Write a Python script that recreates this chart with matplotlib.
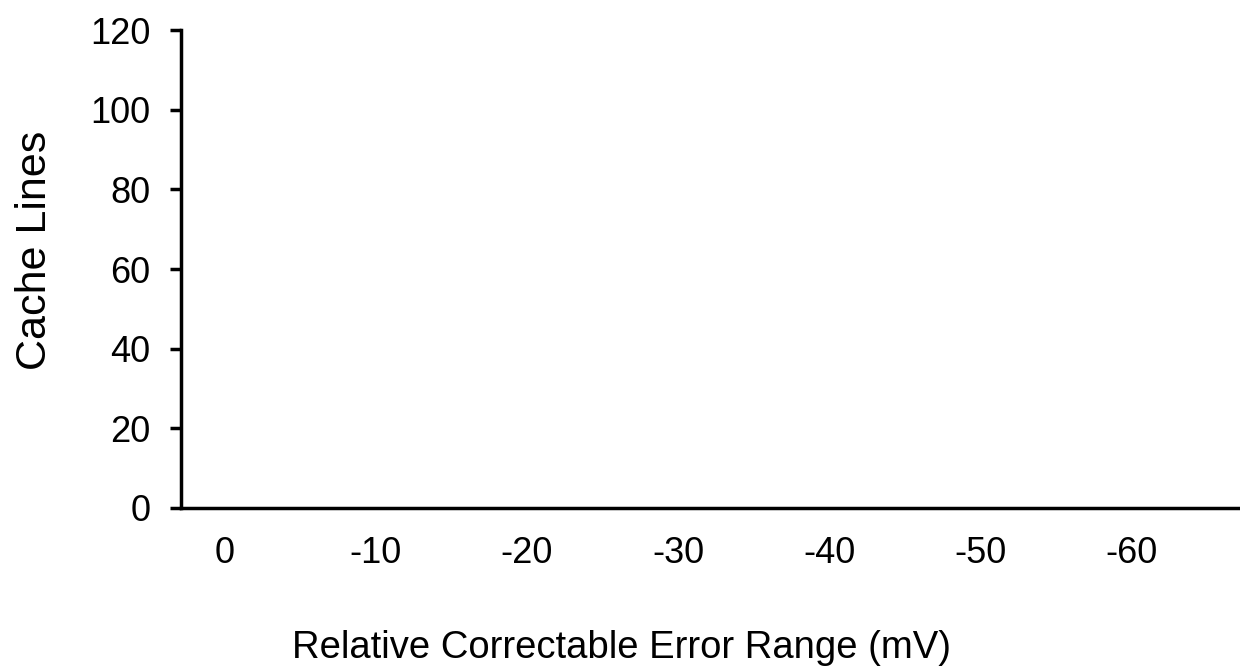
import matplotlib.pyplot as plt
import numpy as np

# chart data: every bar is zero in the source chart
error_range = ['0', '-10', '-20', '-30', '-40', '-50', '-60']
cache_lines = [0, 0, 0, 0, 0, 0, 0]

plt.rcParams['font.family'] = ['Liberation Sans', 'DejaVu Sans']

fig = plt.figure(figsize=(12.4, 6.71), dpi=100)
ax = fig.add_axes([0.146, 0.243, 0.854, 0.712])

x = np.arange(len(error_range))
ax.bar(x, cache_lines, width=0.6, color='#7f7f7f', edgecolor='#c8c8c8', linewidth=0.5)

ax.set_xlim(-0.29, 6.72)
ax.set_ylim(0, 120)
ax.set_yticks(range(0, 121, 20))
ax.set_xticks(x)
ax.set_xticklabels(error_range)

for side in ['top', 'right']:
    ax.spines[side].set_visible(False)
for side in ['left', 'bottom']:
    ax.spines[side].set_linewidth(2.5)

ax.tick_params(axis='y', length=8, width=2.5, labelsize=26, pad=14)
ax.tick_params(axis='x', length=0, labelsize=26, pad=20)

ax.set_xlabel('Relative Correctable Error Range (mV)', fontsize=27.5, va='center')
ax.set_ylabel('Cache Lines', fontsize=31, va='center')
ax.xaxis.set_label_coords(0.416, -0.293)
ax.yaxis.set_label_coords(-0.138, 0.54)

fig.savefig('out.png', dpi=100)
